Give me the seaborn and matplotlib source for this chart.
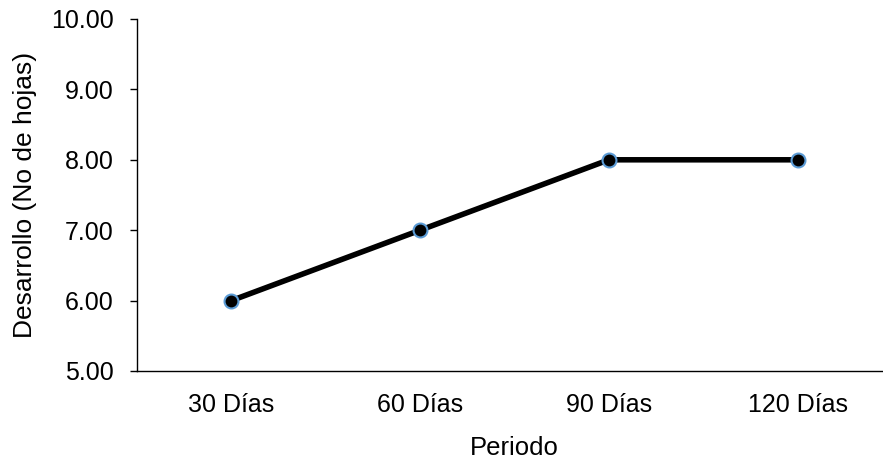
import numpy as np
import pandas as pd
import matplotlib
matplotlib.use("Agg")
import matplotlib.pyplot as plt
import seaborn as sns

# data
periodos = ["30 Días", "60 Días", "90 Días", "120 Días"]
hojas = [6.0, 7.0, 8.0, 8.0]

df = pd.DataFrame({"Periodo": periodos, "hojas": hojas})

sns.set_style("white")
plt.rcParams["font.family"] = ["Liberation Sans", "DejaVu Sans"]
plt.rcParams["text.color"] = "black"
plt.rcParams["axes.labelcolor"] = "black"
plt.rcParams["xtick.color"] = "black"
plt.rcParams["ytick.color"] = "black"

fig = plt.figure(figsize=(8.83, 4.71), dpi=100)
ax = fig.add_axes([137 / 883, 1 - 371 / 471, 755 / 883, 352 / 471])

sns.lineplot(data=df, x="Periodo", y="hojas", ax=ax, color="black", linewidth=4,
             marker="o", markersize=10, markerfacecolor="black",
             markeredgecolor="#5b9bd5", markeredgewidth=1.5, sort=False)

ax.set_ylim(5, 10)
ax.set_yticks(np.arange(5, 10.01, 1))
ax.set_yticklabels([f"{v:.2f}" for v in np.arange(5, 10.01, 1)])
ax.set_xlim(-0.5, 3.5)

ax.set_xlabel("Periodo", fontsize=18.5, labelpad=14)
ax.set_ylabel("Desarrollo (No de hojas)", fontsize=19, labelpad=10)
ax.tick_params(axis="both", labelsize=18)
ax.tick_params(axis="y", left=True, length=5, width=1, color="black", pad=12)
ax.tick_params(axis="x", bottom=False, pad=12)

for s in ["top", "right"]:
    ax.spines[s].set_visible(False)
ax.spines["left"].set_color("black")
ax.spines["bottom"].set_color("black")
ax.spines["left"].set_linewidth(1)
ax.spines["bottom"].set_linewidth(1)

fig.savefig("out.png", dpi=100)
